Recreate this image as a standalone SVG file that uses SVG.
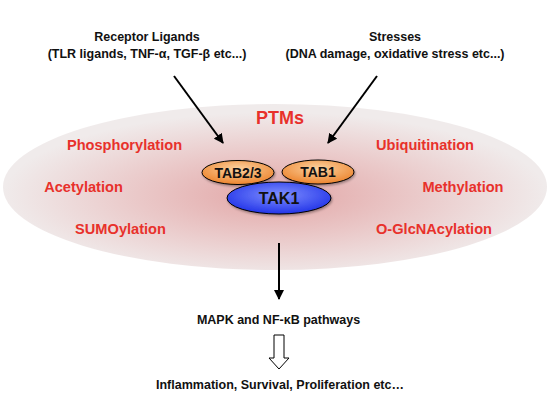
<svg xmlns="http://www.w3.org/2000/svg" width="550" height="412" viewBox="0 0 550 412">
<defs>
<radialGradient id="bg" cx="0.5" cy="0.55" r="0.5">
<stop offset="0" stop-color="#e2a6a6"/>
<stop offset="0.5" stop-color="#eac8c8"/>
<stop offset="1" stop-color="#f0ebeb"/>
</radialGradient>
<radialGradient id="org" cx="0.5" cy="0.35" r="0.6">
<stop offset="0" stop-color="#fbd2a0"/>
<stop offset="1" stop-color="#ee8a36"/>
</radialGradient>
<radialGradient id="blu" cx="0.5" cy="0.4" r="0.6">
<stop offset="0" stop-color="#8090ff"/>
<stop offset="1" stop-color="#2234e8"/>
</radialGradient>
<marker id="ah" viewBox="0 0 10 10" refX="9" refY="5" markerWidth="10" markerHeight="10" markerUnits="userSpaceOnUse" orient="auto">
<path d="M0,0 L10,5 L0,10 z" fill="#000"/>
</marker>
<filter id="sh" x="-20%" y="-20%" width="140%" height="150%">
<feDropShadow dx="1" dy="1.5" stdDeviation="1" flood-color="#000" flood-opacity="0.35"/>
</filter>
</defs>
<style>
.k{font-family:"Liberation Sans",Arial,sans-serif;font-size:12.5px;font-weight:bold;fill:#111;text-anchor:middle}
.r{font-family:"Liberation Sans",Arial,sans-serif;font-size:14.6px;font-weight:bold;fill:#e8312b;text-anchor:middle}
.n{font-family:"Liberation Sans",Arial,sans-serif;font-weight:bold;fill:#111;text-anchor:middle}
.ln{stroke:#000;stroke-width:2;fill:none}
</style>
<rect width="550" height="412" fill="#ffffff"/>
<ellipse id="ptm-zone" cx="275" cy="187" rx="272" ry="83" fill="url(#bg)"/>

<g id="receptor"><text class="k" x="147" y="41">Receptor Ligands</text><text class="k" x="147" y="58">(TLR ligands, TNF-α, TGF-β etc...)</text></g>
<g id="stresses"><text class="k" x="395" y="41">Stresses</text><text class="k" x="395" y="58">(DNA damage, oxidative stress etc...)</text></g>
<g id="ptms"><text class="r" x="280" y="124" style="font-size:18px">PTMs</text>
<text class="r" x="124.5" y="150">Phosphorylation</text>
<text class="r" x="83.5" y="192">Acetylation</text>
<text class="r" x="120.5" y="234">SUMOylation</text>
<text class="r" x="425" y="150">Ubiquitination</text>
<text class="r" x="463" y="192">Methylation</text>
<text class="r" x="434" y="234">O-GlcNAcylation</text></g>

<g id="tab23"><ellipse cx="238" cy="172.5" rx="36" ry="12" fill="url(#org)" stroke="#000" stroke-width="1" filter="url(#sh)"/><text class="n" x="238" y="177.5" style="font-size:14px">TAB2/3</text></g>
<g id="tab1"><ellipse cx="318" cy="172" rx="36" ry="12" fill="url(#org)" stroke="#000" stroke-width="1" filter="url(#sh)"/><text class="n" x="318" y="177" style="font-size:14px">TAB1</text></g>
<g id="tak1"><ellipse cx="279" cy="198" rx="52" ry="16" fill="url(#blu)" stroke="#000" stroke-width="1" filter="url(#sh)"/><text class="n" x="279" y="204" style="font-size:16px">TAK1</text></g>

<g id="mapk"><text class="k" x="278.5" y="324">MAPK and NF-κB pathways</text></g>
<g id="outcome"><text class="k" x="280" y="389">Inflammation, Survival, Proliferation etc…</text></g>

<g id="connectors">
<line class="ln" x1="174" y1="76" x2="223" y2="143" marker-end="url(#ah)"/>
<line class="ln" x1="377" y1="76" x2="328" y2="143" marker-end="url(#ah)"/>
<line class="ln" x1="279" y1="243" x2="279" y2="299" marker-end="url(#ah)"/>
<path d="M274,335 L284,335 L284,358 L289,358 L279,369 L269,358 L274,358 Z" fill="#fff" stroke="#000" stroke-width="1"/>
</g>
</svg>
